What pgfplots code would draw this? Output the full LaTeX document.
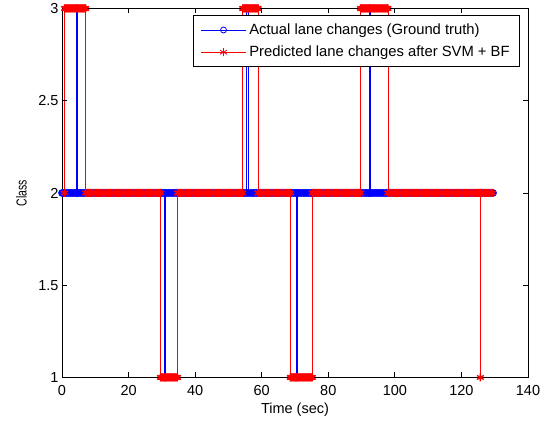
\documentclass[border=0pt]{standalone}
\usepackage{pgfplots}
\pgfplotsset{compat=1.18}
\usepackage{graphicx}
\usepackage{fontspec}
\setmainfont{Liberation Sans}
\definecolor{mblue}{RGB}{0,0,255}
\definecolor{mred}{RGB}{255,0,0}
\begin{document}
\begin{tikzpicture}
\begin{axis}[
  name=ax,
  scale only axis,
  width=466pt, height=369pt,
  xmin=0, xmax=140, ymin=1, ymax=3,
  xtick={0,20,40,60,80,100,120,140},
  ytick={1,1.5,2,2.5,3},
  tick align=inside,
  xtick pos=both, ytick pos=both,
  major tick length=5pt,
  axis line style={line width=0.8pt},
  every tick/.style={black, line width=0.8pt},
  axis on top,
  clip=false,
  /pgf/number format/assume math mode=true,
  tick label style={font=\fontsize{14.5}{17}\selectfont},
  xticklabel style={yshift=-4pt},
  label style={font=\fontsize{14.5}{17}\selectfont},
  xlabel={Time (sec)},
  ylabel={\scalebox{0.72}[1]{Class}},
  xlabel style={at={(axis description cs:0.5,-0.0867)}, anchor=center},
  ylabel style={at={(axis description cs:-0.087,0.5)}, anchor=center},
  legend style={at={(0.983,0.981)}, anchor=north east, font=\fontsize{14.8}{17}\selectfont,
    draw=black, line width=0.8pt, inner xsep=7pt, inner ysep=5pt, row sep=4pt,
    nodes={inner sep=3pt}},
  legend cell align=left,
  legend image code/.code={\draw[mark repeat=2,mark phase=2,#1,mark options={line width=0.8pt}] plot coordinates {(0pt,0pt)(22.5pt,0pt)(45pt,0pt)};},
]
\addplot[color=mblue, line width=0.6pt, mark=o, mark size=3pt, mark options={line width=1.6pt}] coordinates {
(0,2)(0.5,2)(1,2)(1.5,2)(2,2)(2.5,2)(3,2)(3.5,2)(4,2)
(4.3,2)(4.3,3)(4.6,3)(4.6,2)
(5,2)(5.5,2)(6,2)(6.5,2)(7,2)(7.5,2)(8,2)(8.5,2)(9,2)(9.5,2)
(10,2)(10.5,2)(11,2)(11.5,2)(12,2)(12.5,2)(13,2)(13.5,2)(14,2)(14.5,2)
(15,2)(15.5,2)(16,2)(16.5,2)(17,2)(17.5,2)(18,2)(18.5,2)(19,2)(19.5,2)
(20,2)(20.5,2)(21,2)(21.5,2)(22,2)(22.5,2)(23,2)(23.5,2)(24,2)(24.5,2)
(25,2)(25.5,2)(26,2)(26.5,2)(27,2)(27.5,2)(28,2)(28.5,2)(29,2)(29.5,2)
(30,2)(30.5,2)
(30.8,2)(30.8,1)(31.1,1)(31.1,2)
(31.5,2)(32,2)(32.5,2)(33,2)(33.5,2)(34,2)(34.5,2)
(35,2)(35.5,2)(36,2)(36.5,2)(37,2)(37.5,2)(38,2)(38.5,2)(39,2)(39.5,2)
(40,2)(40.5,2)(41,2)(41.5,2)(42,2)(42.5,2)(43,2)(43.5,2)(44,2)(44.5,2)
(45,2)(45.5,2)(46,2)(46.5,2)(47,2)(47.5,2)(48,2)(48.5,2)(49,2)(49.5,2)
(50,2)(50.5,2)(51,2)(51.5,2)(52,2)(52.5,2)(53,2)(53.5,2)(54,2)(54.5,2)
(55,2)
(55.5,2)(55.5,3)(55.9,3)(55.9,2)
(56.5,2)(57,2)(57.5,2)(58,2)(58.5,2)(59,2)(59.5,2)
(60,2)(60.5,2)(61,2)(61.5,2)(62,2)(62.5,2)(63,2)(63.5,2)(64,2)(64.5,2)
(65,2)(65.5,2)(66,2)(66.5,2)(67,2)(67.5,2)(68,2)(68.5,2)(69,2)(69.5,2)
(70,2)
(70.3,2)(70.3,1)(70.6,1)(70.6,2)
(71,2)(71.5,2)(72,2)(72.5,2)(73,2)(73.5,2)(74,2)(74.5,2)
(75,2)(75.5,2)(76,2)(76.5,2)(77,2)(77.5,2)(78,2)(78.5,2)(79,2)(79.5,2)
(80,2)(80.5,2)(81,2)(81.5,2)(82,2)(82.5,2)(83,2)(83.5,2)(84,2)(84.5,2)
(85,2)(85.5,2)(86,2)(86.5,2)(87,2)(87.5,2)(88,2)(88.5,2)(89,2)(89.5,2)
(90,2)(90.5,2)(91,2)(91.5,2)(92,2)
(92.4,2)(92.4,3)(92.7,3)(92.7,2)
(93,2)(93.5,2)(94,2)(94.5,2)
(95,2)(95.5,2)(96,2)(96.5,2)(97,2)(97.5,2)(98,2)(98.5,2)(99,2)(99.5,2)
(100,2)(100.5,2)(101,2)(101.5,2)(102,2)(102.5,2)(103,2)(103.5,2)(104,2)(104.5,2)
(105,2)(105.5,2)(106,2)(106.5,2)(107,2)(107.5,2)(108,2)(108.5,2)(109,2)(109.5,2)
(110,2)(110.5,2)(111,2)(111.5,2)(112,2)(112.5,2)(113,2)(113.5,2)(114,2)(114.5,2)
(115,2)(115.5,2)(116,2)(116.5,2)(117,2)(117.5,2)(118,2)(118.5,2)(119,2)(119.5,2)
(120,2)(120.5,2)(121,2)(121.5,2)(122,2)(122.5,2)(123,2)(123.5,2)(124,2)(124.5,2)
(125,2)(125.5,2)(126,2)(126.5,2)(127,2)(127.5,2)(128,2)(128.5,2)(129,2)(129.5,2)
};
\addlegendentry{Actual lane changes (Ground truth)}
\addplot[color=mred, line width=0.6pt, mark=asterisk, mark size=4pt, mark options={line width=1.4pt}] coordinates {
(0.8,2)(0.8,3)(1,3)(1.25,3)(1.5,3)(1.75,3)(2,3)(2.25,3)(2.5,3)(2.75,3)(3,3)(3.25,3)(3.5,3)(3.75,3)
(4,3)(4.25,3)(4.5,3)(4.75,3)(5,3)(5.25,3)(5.5,3)(5.75,3)(6,3)(6.25,3)(6.5,3)(6.75,3)(7,3)(7.1,3)(7.1,2)
(7.5,2)(8,2)(8.5,2)(9,2)(9.5,2)
(10,2)(10.5,2)(11,2)(11.5,2)(12,2)(12.5,2)(13,2)(13.5,2)(14,2)(14.5,2)
(15,2)(15.5,2)(16,2)(16.5,2)(17,2)(17.5,2)(18,2)(18.5,2)(19,2)(19.5,2)
(20,2)(20.5,2)(21,2)(21.5,2)(22,2)(22.5,2)(23,2)(23.5,2)(24,2)(24.5,2)
(25,2)(25.5,2)(26,2)(26.5,2)(27,2)(27.5,2)(28,2)(28.5,2)(29,2)(29.5,2)
(29.6,2)(29.6,1)
(29.75,1)(30,1)(30.25,1)(30.5,1)(30.75,1)(31,1)(31.25,1)(31.5,1)(31.75,1)(32,1)(32.25,1)(32.5,1)
(32.75,1)(33,1)(33.25,1)(33.5,1)(33.75,1)(34,1)(34.25,1)(34.5,1)
(34.7,1)(34.7,2)
(35,2)(35.5,2)(36,2)(36.5,2)(37,2)(37.5,2)(38,2)(38.5,2)(39,2)(39.5,2)
(40,2)(40.5,2)(41,2)(41.5,2)(42,2)(42.5,2)(43,2)(43.5,2)(44,2)(44.5,2)
(45,2)(45.5,2)(46,2)(46.5,2)(47,2)(47.5,2)(48,2)(48.5,2)(49,2)(49.5,2)
(50,2)(50.5,2)(51,2)(51.5,2)(52,2)(52.5,2)(53,2)(53.5,2)(54,2)
(54.3,2)(54.3,3)
(54.5,3)(54.75,3)(55,3)(55.25,3)(55.5,3)(55.75,3)(56,3)(56.25,3)(56.5,3)(56.75,3)(57,3)(57.25,3)
(57.5,3)(57.75,3)(58,3)(58.25,3)(58.5,3)(58.75,3)
(58.9,3)(58.9,2)
(59,2)(59.5,2)
(60,2)(60.5,2)(61,2)(61.5,2)(62,2)(62.5,2)(63,2)(63.5,2)(64,2)(64.5,2)
(65,2)(65.5,2)(66,2)(66.5,2)(67,2)(67.5,2)(68,2)(68.5,2)
(68.6,2)(68.6,1)
(68.75,1)(69,1)(69.25,1)(69.5,1)(69.75,1)(70,1)(70.25,1)(70.5,1)(70.75,1)(71,1)(71.25,1)(71.5,1)
(71.75,1)(72,1)(72.25,1)(72.5,1)(72.75,1)(73,1)(73.25,1)(73.5,1)(73.75,1)(74,1)(74.25,1)(74.5,1)
(74.75,1)(75,1)
(75.2,1)(75.2,2)
(75.5,2)(76,2)(76.5,2)(77,2)(77.5,2)(78,2)(78.5,2)(79,2)(79.5,2)
(80,2)(80.5,2)(81,2)(81.5,2)(82,2)(82.5,2)(83,2)(83.5,2)(84,2)(84.5,2)
(85,2)(85.5,2)(86,2)(86.5,2)(87,2)(87.5,2)(88,2)(88.5,2)(89,2)(89.5,2)
(89.7,2)(89.7,3)
(89.75,3)(90,3)(90.25,3)(90.5,3)(90.75,3)(91,3)(91.25,3)(91.5,3)(91.75,3)(92,3)(92.25,3)(92.5,3)
(92.75,3)(93,3)(93.25,3)(93.5,3)(93.75,3)(94,3)(94.25,3)(94.5,3)(94.75,3)(95,3)(95.25,3)(95.5,3)
(95.75,3)(96,3)(96.25,3)(96.5,3)(96.75,3)(97,3)(97.25,3)(97.5,3)(97.75,3)
(97.9,3)(97.9,2)
(98,2)(98.5,2)(99,2)(99.5,2)
(100,2)(100.5,2)(101,2)(101.5,2)(102,2)(102.5,2)(103,2)(103.5,2)(104,2)(104.5,2)
(105,2)(105.5,2)(106,2)(106.5,2)(107,2)(107.5,2)(108,2)(108.5,2)(109,2)(109.5,2)
(110,2)(110.5,2)(111,2)(111.5,2)(112,2)(112.5,2)(113,2)(113.5,2)(114,2)(114.5,2)
(115,2)(115.5,2)(116,2)(116.5,2)(117,2)(117.5,2)(118,2)(118.5,2)(119,2)(119.5,2)
(120,2)(120.5,2)(121,2)(121.5,2)(122,2)(122.5,2)(123,2)(123.5,2)(124,2)(124.5,2)
(125,2)(125.5,2)
(125.7,2)(125.7,1)(125.7,2)
(126,2)(126.5,2)(127,2)(127.5,2)(128,2)(128.5,2)(129,2)(129.3,2)
};
\addlegendentry{Predicted lane changes after SVM + BF}
\end{axis}
\path ([xshift=-62pt,yshift=-52pt]ax.south west) rectangle ([xshift=18pt,yshift=7pt]ax.north east);
\end{tikzpicture}
\end{document}
